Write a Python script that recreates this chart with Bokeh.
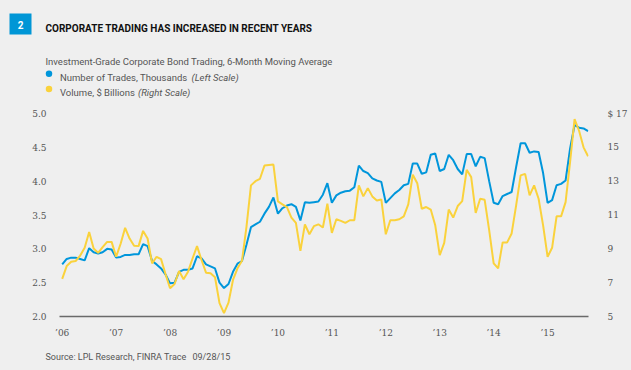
from bokeh.plotting import figure
from bokeh.layouts import column
from bokeh.models import (ColumnDataSource, Range1d, LinearAxis, FixedTicker,
                          NumeralTickFormatter)
from bokeh.core.properties import value
from bokeh.embed import file_html
from bokeh.resources import INLINE

# ---- data (monthly, Jan 2006 - Oct 2015) ----
year_ticks = [0, 12, 24, 36, 48, 60, 72, 84, 96, 108]
year_labels = ["’06", "’07", "’08", "’09", "’10", "’11", "’12", "’13", "’14", "’15"]

trades = [2.77, 2.85, 2.87, 2.87, 2.85, 2.83, 3.01, 2.95, 2.93, 2.95, 3.00, 2.99,
          2.87, 2.88, 2.91, 2.91, 2.92, 2.92, 3.07, 3.04, 2.82, 2.77, 2.71, 2.62,
          2.49, 2.50, 2.66, 2.69, 2.69, 2.71, 2.89, 2.86, 2.77, 2.74, 2.71, 2.50,
          2.42, 2.48, 2.66, 2.78, 2.82, 3.06, 3.32, 3.36, 3.40, 3.52, 3.62, 3.76,
          3.52, 3.60, 3.64, 3.66, 3.62, 3.42, 3.69, 3.68, 3.69, 3.70, 3.80, 3.97,
          3.68, 3.79, 3.83, 3.85, 3.86, 3.91, 4.23, 4.15, 4.12, 4.04, 4.01, 3.99,
          3.68, 3.75, 3.82, 3.87, 3.94, 3.96, 4.26, 4.26, 4.11, 4.13, 4.39, 4.41,
          4.15, 4.18, 4.39, 4.31, 4.18, 4.10, 4.40, 4.40, 4.22, 4.36, 4.34, 4.00,
          3.68, 3.66, 3.78, 3.81, 3.84, 4.21, 4.56, 4.56, 4.42, 4.44, 4.43, 4.12,
          3.68, 3.72, 3.94, 3.96, 4.01, 4.48, 4.83, 4.79, 4.78, 4.74]

volume = [7.22, 7.98, 8.24, 8.28, 8.60, 9.06, 10.00, 9.02, 8.76, 9.10, 9.41, 9.41,
          8.53, 9.30, 10.24, 9.61, 9.18, 9.16, 10.06, 9.61, 8.14, 8.53, 8.39, 7.50,
          6.67, 6.92, 7.69, 7.20, 7.65, 8.43, 9.16, 8.34, 7.59, 7.55, 7.32, 5.79,
          5.20, 5.82, 7.16, 7.85, 8.29, 10.30, 12.75, 13.00, 13.14, 13.92, 13.95, 13.98,
          11.80, 11.63, 11.47, 10.85, 10.53, 8.88, 10.45, 9.86, 10.34, 10.45, 10.26, 11.67,
          9.94, 10.75, 10.65, 10.53, 10.69, 10.69, 12.75, 12.10, 12.59, 12.10, 11.86, 11.92,
          9.86, 10.69, 10.69, 10.75, 10.92, 11.63, 13.38, 12.88, 11.37, 11.47, 11.32, 10.39,
          8.63, 9.35, 11.32, 10.85, 11.53, 11.82, 13.67, 13.24, 11.12, 11.96, 11.90, 10.10,
          8.14, 7.85, 9.38, 9.38, 9.91, 11.57, 13.34, 13.43, 12.16, 12.75, 11.96, 10.39,
          8.53, 9.06, 10.92, 10.92, 11.76, 14.12, 16.67, 15.98, 15.00, 14.47]

left_ticks = [2.0, 2.5, 3.0, 3.5, 4.0, 4.5, 5.0]
right_ticks = [5, 7, 9, 11, 13, 15, 17]
right_labels = ["5", "7", "9", "11", "13", "15", "$ 17"]

title_text = "CORPORATE TRADING HAS INCREASED IN RECENT YEARS"
subtitle_text = "Investment-Grade Corporate Bond Trading, 6-Month Moving Average"
legend_main = ["Number of Trades, Thousands", "Volume, $ Billions"]
legend_scale = ["(Left Scale)", "(Right Scale)"]
source_text = "Source: LPL Research, FINRA Trace"
date_text = "09/28/15"

BG = "#EFEFEF"
BLUE = "#0096DB"
YELLOW = "#FAD23C"
GRAY = "#555555"
W = 631


def blank(height, ymax):
    f = figure(width=W, height=height, output_backend="svg", toolbar_location=None,
               x_range=Range1d(0, W), y_range=Range1d(ymax, 0),
               min_border=0, min_border_left=0, min_border_right=0,
               min_border_top=0, min_border_bottom=0,
               background_fill_color=BG, border_fill_color=BG, outline_line_color=None)
    f.axis.visible = False
    f.grid.visible = False
    try:
        f.frame_align = False
    except Exception:
        pass
    return f


def txt(f, x, y, s, size="9.5px", color=GRAY, style="normal", font="Roboto",
        align="left", baseline="alphabetic"):
    f.text(x=[x], y=[y], text=[s], text_font=value(font), text_font_size=value(size),
           text_font_style=style, text_color=color, text_align=align,
           text_baseline=baseline)


# ---- header ----
top = blank(100, 100)
top.quad(left=[9], right=[31], top=[13], bottom=[34], fill_color="#0096D6", line_color=None)
txt(top, 20, 24, "2", size="10px", color="white", style="bold", align="center",
    baseline="middle")
txt(top, 45, 27.5, title_text, size="10px", color="#111111", style="bold")
txt(top, 45, 61, subtitle_text)
top.scatter(x=[48.5, 48.5], y=[73.3, 88.5], size=6.5, color=[BLUE, YELLOW], line_color=None)
txt(top, 59.5, 76.7, legend_main[0])
txt(top, 191, 76.7, legend_scale[0], style="italic")
txt(top, 59.5, 91.8, legend_main[1])
txt(top, 137.5, 91.8, legend_scale[1], style="italic")

# ---- chart ----
months = list(range(len(trades)))
src = ColumnDataSource(dict(m=months, trades=trades, volume=volume))

p = figure(width=W, height=240, output_backend="svg", toolbar_location=None,
           x_range=Range1d(-0.6, 117.1), y_range=Range1d(2.0, 5.0),
           min_border_left=59, min_border_right=43, min_border_top=13, min_border_bottom=23,
           background_fill_color=BG, border_fill_color=BG, outline_line_color=None)
p.extra_y_ranges = {"right": Range1d(5, 17)}
p.grid.visible = False

p.line("m", "trades", source=src, line_color=BLUE, line_width=2)
p.line("m", "volume", source=src, y_range_name="right", line_color=YELLOW, line_width=2)

ax = p.xaxis[0]
ax.ticker = FixedTicker(ticks=year_ticks)
ax.major_label_overrides = {t: l for t, l in zip(year_ticks, year_labels)}
ax.axis_line_color = "#6A6A6A"
ax.axis_line_width = 1.5
ax.major_tick_line_color = None
ax.minor_tick_line_color = None
ax.major_label_standoff = 5
ax.major_label_text_font = "DejaVu Serif"
ax.major_label_text_font_size = "9px"
ax.major_label_text_color = GRAY

ay = p.yaxis[0]
ay.ticker = FixedTicker(ticks=left_ticks)
ay.formatter = NumeralTickFormatter(format="0.0")
ay.axis_line_color = None
ay.major_tick_line_color = None
ay.minor_tick_line_color = None
ay.major_label_standoff = 7
ay.major_label_text_font = "DejaVu Serif"
ay.major_label_text_font_size = "9px"
ay.major_label_text_color = GRAY

ar = LinearAxis(y_range_name="right", ticker=FixedTicker(ticks=right_ticks),
                major_label_overrides={t: l for t, l in zip(right_ticks, right_labels)},
                axis_line_color=None, major_tick_line_color=None, minor_tick_line_color=None,
                major_label_standoff=13, major_label_text_font="DejaVu Serif",
                major_label_text_font_size="9px", major_label_text_color=GRAY)
p.add_layout(ar, "right")

# ---- footer ----
bottom = blank(30, 30)
txt(bottom, 45, 16.5, source_text, size="9px")
txt(bottom, 192, 16.5, date_text, size="9px")

page = column(top, p, bottom, spacing=0, styles={"background-color": BG})
open("out.html", "w").write(file_html(page, INLINE))
